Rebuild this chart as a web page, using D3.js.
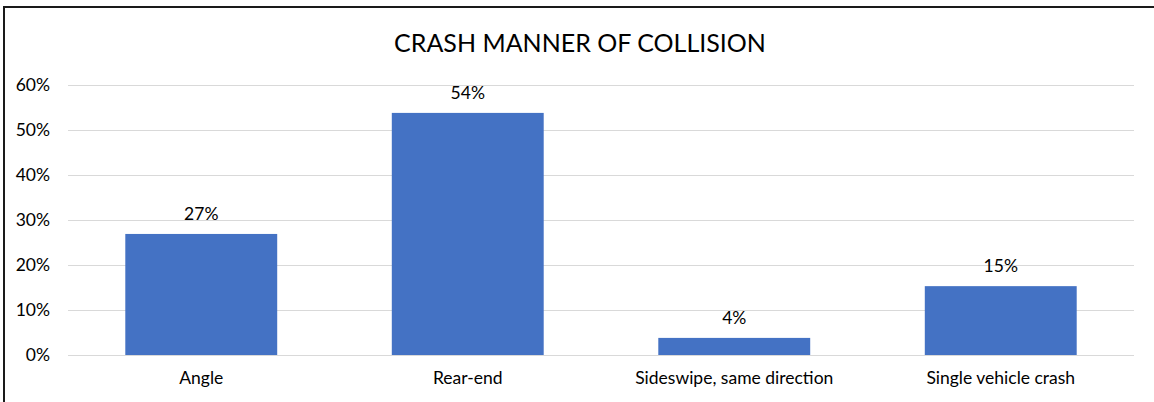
<!DOCTYPE html>
<html>
<head>
<meta charset="utf-8">
<script src="https://cdn.jsdelivr.net/npm/d3@7"></script>
<style>
    body { margin: 0; background: #fff; }
    text { font-family: Lato, "Open Sans", sans-serif; fill: #000; }
</style>
</head>
<body>
<svg id="chart" width="1154" height="402"></svg>
<script>
const categories = ["Angle", "Rear-end", "Sideswipe, same direction", "Single vehicle crash"];
const shares = [0.269, 0.538, 0.038, 0.153];
const yTicks = [0, 0.1, 0.2, 0.3, 0.4, 0.5, 0.6];

const BAR_COLOR = "#4472c4";
const margin = {left: 68, right: 20, top: 85, bottom: 47};

const svg = d3.select("#chart");
const width = +svg.attr("width");
const height = +svg.attr("height");

// chart frame, only top and left edges are in view
svg.append("path")
    .attr("d", `M 4,${height} V 7 H ${width}`)
    .attr("fill", "none").attr("stroke", "#1a1a1a").attr("stroke-width", 2);

svg.append("text").text("CRASH MANNER OF COLLISION")
    .attr("x", 580).attr("y", 52)
    .attr("text-anchor", "middle").style("font-size", "25px");

let x = d3.scaleBand().domain(categories)
    .range([margin.left, width - margin.right]).paddingInner(0.43).paddingOuter(0.215);
let y = d3.scaleLinear().domain([0, 0.6]).range([height - margin.bottom, margin.top]);

let grid = svg.append("g").attr("transform", `translate(${margin.left},0)`)
    .call(d3.axisLeft(y).tickValues(yTicks).tickSize(-(width - margin.right - margin.left)).tickFormat(""));
grid.select(".domain").remove();
grid.selectAll("line").attr("stroke", "#d9d9d9").attr("stroke-width", 1);

let yAxis = svg.append("g").attr("transform", `translate(50,0)`)
    .call(d3.axisLeft(y).tickValues(yTicks).tickSize(0).tickPadding(0).tickFormat(d3.format(".0%")));
yAxis.select(".domain").remove();
yAxis.selectAll("text").style("font-size", "17.5px").attr("fill", "#000");

svg.append("g").selectAll("text").data(categories).join("text")
    .text((d, i) => d3.format(".0%")(shares[i]))
    .attr("x", d => x(d) + x.bandwidth() / 2)
    .attr("y", (d, i) => y(shares[i]) - 14)
    .attr("text-anchor", "middle").style("font-size", "17.5px");

svg.append("g").selectAll("rect").data(categories).join("rect")
    .attr("x", d => x(d))
    .attr("y", (d, i) => y(shares[i]))
    .attr("width", x.bandwidth())
    .attr("height", (d, i) => y(0) - y(shares[i]))
    .attr("fill", BAR_COLOR);

let xAxis = svg.append("g").attr("transform", `translate(0,${y(0)})`)
    .call(d3.axisBottom(x).tickSize(0).tickPadding(17));
xAxis.select(".domain").remove();
xAxis.selectAll("text").style("font-size", "17.5px").attr("fill", "#000");
</script>
</body>
</html>
